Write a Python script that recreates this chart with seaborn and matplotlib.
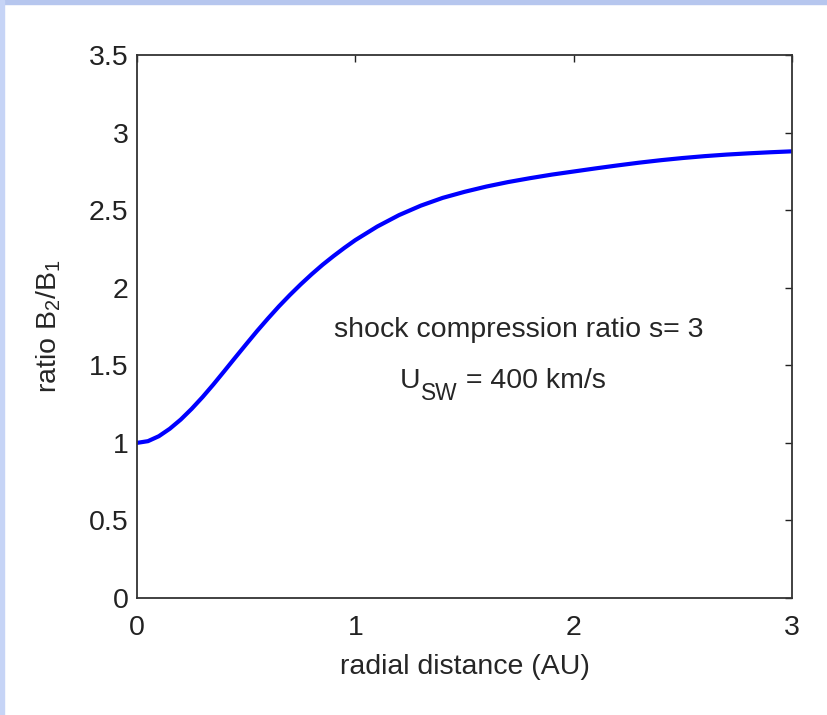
import numpy as np
import pandas as pd
import seaborn as sns
import matplotlib
matplotlib.use("Agg")
import matplotlib.pyplot as plt
from matplotlib.patches import Rectangle

sns.set_style("white")
plt.rcParams['font.family'] = ['Liberation Sans', 'DejaVu Sans']
plt.rcParams['mathtext.default'] = 'regular'

# values
r_au = [0.0, 0.05, 0.1, 0.15, 0.2, 0.25, 0.3, 0.35, 0.4, 0.45, 0.5, 0.55,
        0.6, 0.65, 0.7, 0.75, 0.8, 0.85, 0.9, 0.95, 1.0, 1.1, 1.2, 1.3,
        1.4, 1.5, 1.6, 1.7, 1.8, 1.9, 2.0, 2.1, 2.2, 2.3, 2.4, 2.5, 2.6,
        2.7, 2.8, 2.9, 3.0]
ratio = [1.000, 1.011, 1.043, 1.091, 1.150, 1.219, 1.295, 1.377, 1.463,
         1.550, 1.636, 1.721, 1.802, 1.880, 1.953, 2.022, 2.087, 2.148,
         2.204, 2.257, 2.307, 2.394, 2.468, 2.529, 2.579, 2.618, 2.652,
         2.681, 2.706, 2.729, 2.749, 2.769, 2.788, 2.806, 2.822, 2.836,
         2.848, 2.858, 2.866, 2.873, 2.879]
xticks = [0, 1, 2, 3]
yticks = [0, 0.5, 1, 1.5, 2, 2.5, 3, 3.5]

df = pd.DataFrame({"r": r_au, "ratio": ratio})

fig = plt.figure(figsize=(8.28, 7.15), dpi=100)
ax = fig.add_axes([0.1655, 0.1636, 0.791, 0.7595])

sns.lineplot(data=df, x="r", y="ratio", ax=ax, color="#0000ff", lw=3.0)

ax.set_xlim(0, 3)
ax.set_ylim(0, 3.5)
ax.set_xticks(xticks)
ax.set_xticklabels([str(t) for t in xticks])
ax.set_yticks(yticks)
ax.set_yticklabels(["0", "0.5", "1", "1.5", "2", "2.5", "3", "3.5"])

fs = 20.5
ax.tick_params(direction="in", length=5, width=1, top=True, right=True,
               labelsize=fs, colors="#222222")
ax.tick_params(axis="x", pad=12)
ax.tick_params(axis="y", pad=6)
for s in ax.spines.values():
    s.set_visible(True)
    s.set_color("#333333")
    s.set_linewidth(1.3)

ax.set_xlabel("radial distance (AU)", fontsize=fs, labelpad=9.5)
ax.set_ylabel("ratio B$_2$/B$_1$", fontsize=fs, labelpad=19)

ax.text(0.9, 1.73, "shock compression ratio s= 3", fontsize=fs, va="center")

# U_SW line, subscript drawn a bit larger like the original
u = ax.text(1.205, 1.315, "U", fontsize=fs, va="bottom")
sw = ax.annotate("SW", xy=(1, 0), xycoords=u, xytext=(0.5, -8),
                 textcoords="offset points", fontsize=fs * 0.8, va="bottom")
ax.annotate(" = 400 km/s", xy=(1, 0), xycoords=(sw, u), xytext=(0, 0),
            textcoords="offset points", fontsize=fs, va="bottom")

# light blue frame of the slide
fig.patches.append(Rectangle((0, 1 - 4 / 715), 1, 4 / 715,
                             transform=fig.transFigure, color="#b6c6ee", zorder=0))
fig.patches.append(Rectangle((0, 0), 4.5 / 828, 1,
                             transform=fig.transFigure, color="#c6d4f6", zorder=0))

plt.savefig("out.png", dpi=100)
